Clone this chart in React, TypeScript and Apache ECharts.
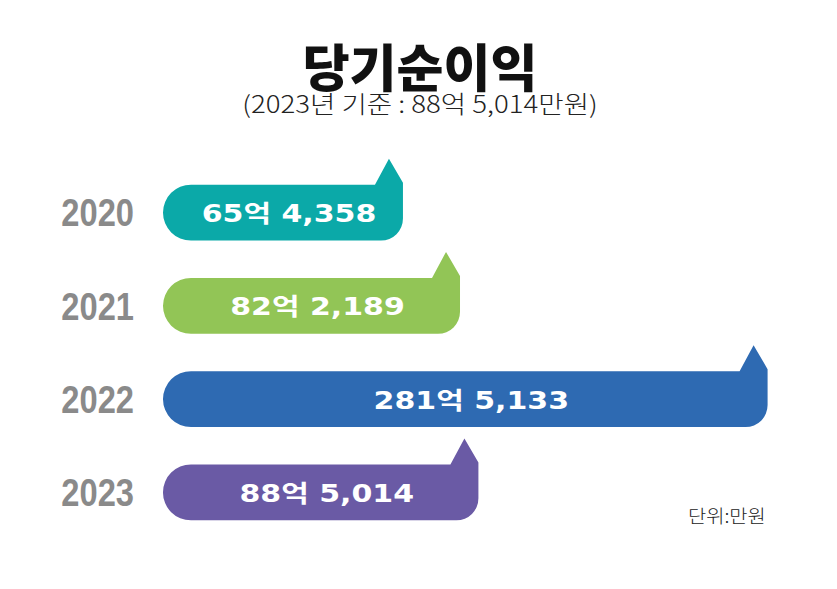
import React, { useEffect, useRef } from "react";
import * as echarts from "echarts";

const YEARS = ["2020", "2021", "2022", "2023"];
const NET_INCOME = [654358, 822189, 2815133, 885014]; // 만원
const COLORS = ["#0ba9a8", "#92c556", "#2e6ab2", "#6a5aa5"];
const TITLE = "당기순이익";
const SUBTITLE = "(2023년 기준 : 88억 5,014만원)";
const UNIT = "단위:만원";

function fmt(v: number): string {
  const eok = Math.floor(v / 10000);
  const rest = v % 10000;
  return `${eok}억 ${rest.toLocaleString("en-US")}`;
}

export default function App() {
  const ref = useRef<HTMLDivElement>(null);
  useEffect(() => {
    document.body.style.margin = "0";
    const chart = echarts.init(ref.current!, null, { renderer: "svg" });
    const option: any = {
      animation: false,
      backgroundColor: "#ffffff",
      grid: { left: 163, right: 37, top: 166, height: 373 },
      xAxis: {
        type: "log",
        logBase: 10,
        min: 250500,
        max: 3205000,
        show: false,
      },
      yAxis: {
        type: "category",
        data: YEARS,
        inverse: true,
        axisLine: { show: false },
        axisTick: { show: false },
        axisLabel: { show: false },
      },
      graphic: [
        {
          type: "text",
          x: 420,
          y: 65,
          style: {
            text: TITLE,
            fill: "#111111",
            font: "900 51px 'Noto Sans CJK KR', sans-serif",
            textAlign: "center",
            textVerticalAlign: "middle",
          },
        },
        {
          type: "text",
          x: 420,
          y: 102,
          scaleX: 1.15,
          style: {
            text: SUBTITLE,
            fill: "#222222",
            font: "300 24px 'Noto Sans CJK KR', sans-serif",
            textAlign: "center",
            textVerticalAlign: "middle",
          },
        },
        {
          type: "text",
          x: 688,
          y: 515,
          scaleX: 1.1,
          style: {
            text: UNIT,
            fill: "#222222",
            font: "300 18px 'Noto Sans CJK KR', sans-serif",
            textAlign: "left",
            textVerticalAlign: "middle",
          },
        },
      ],
      series: [
        {
          type: "custom",
          coordinateSystem: "cartesian2d",
          data: NET_INCOME.map((v, i) => [v, i]),
          encode: { x: 0, y: 1 },
          renderItem: (params: any, api: any) => {
            const idx = api.value(1);
            const val = api.value(0);
            const end = api.coord([val, idx]);
            const cs = params.coordSys;
            const band = cs.height / YEARS.length;
            const h = band * 0.6;
            const x0 = cs.x;
            const x1 = end[0];
            const cy = end[1];
            const yT = cy - h / 2;
            const yB = cy + h / 2;
            const r = h / 2;
            const rb = 22;
            const tabH = 26;
            const tabBase = 28;
            const tabApex = 14;
            const d =
              `M${x0 + r},${yT} L${x1 - tabBase},${yT} L${x1 - tabApex},${yT - tabH} ` +
              `L${x1},${yT - 2} L${x1},${yB - rb} A${rb},${rb} 0 0 1 ${x1 - rb},${yB} ` +
              `L${x0 + r},${yB} A${r},${r} 0 0 1 ${x0 + r},${yT} Z`;
            return {
              type: "group",
              children: [
                {
                  type: "path",
                  shape: { pathData: d },
                  style: { fill: COLORS[idx] },
                },
                {
                  type: "text",
                  x: (x0 + x1) / 2 + 6,
                  y: cy + 1,
                  scaleX: 1.25,
                  style: {
                    text: fmt(val),
                    fill: "#ffffff",
                    font: "bold 24px 'DejaVu Sans', 'Noto Sans CJK KR', sans-serif",
                    textAlign: "center",
                    textVerticalAlign: "middle",
                  },
                },
                {
                  type: "text",
                  x: x0 - 29,
                  y: cy + 1,
                  scaleX: 0.86,
                  style: {
                    text: YEARS[idx],
                    fill: "#8a8a8a",
                    font: "bold 38px 'Liberation Sans', Arial, sans-serif",
                    textAlign: "right",
                    textVerticalAlign: "middle",
                  },
                },
              ],
            };
          },
        },
      ],
    };
    chart.setOption(option);
    return () => chart.dispose();
  }, []);
  return <div ref={ref} style={{ width: 837, height: 589 }} />;
}
